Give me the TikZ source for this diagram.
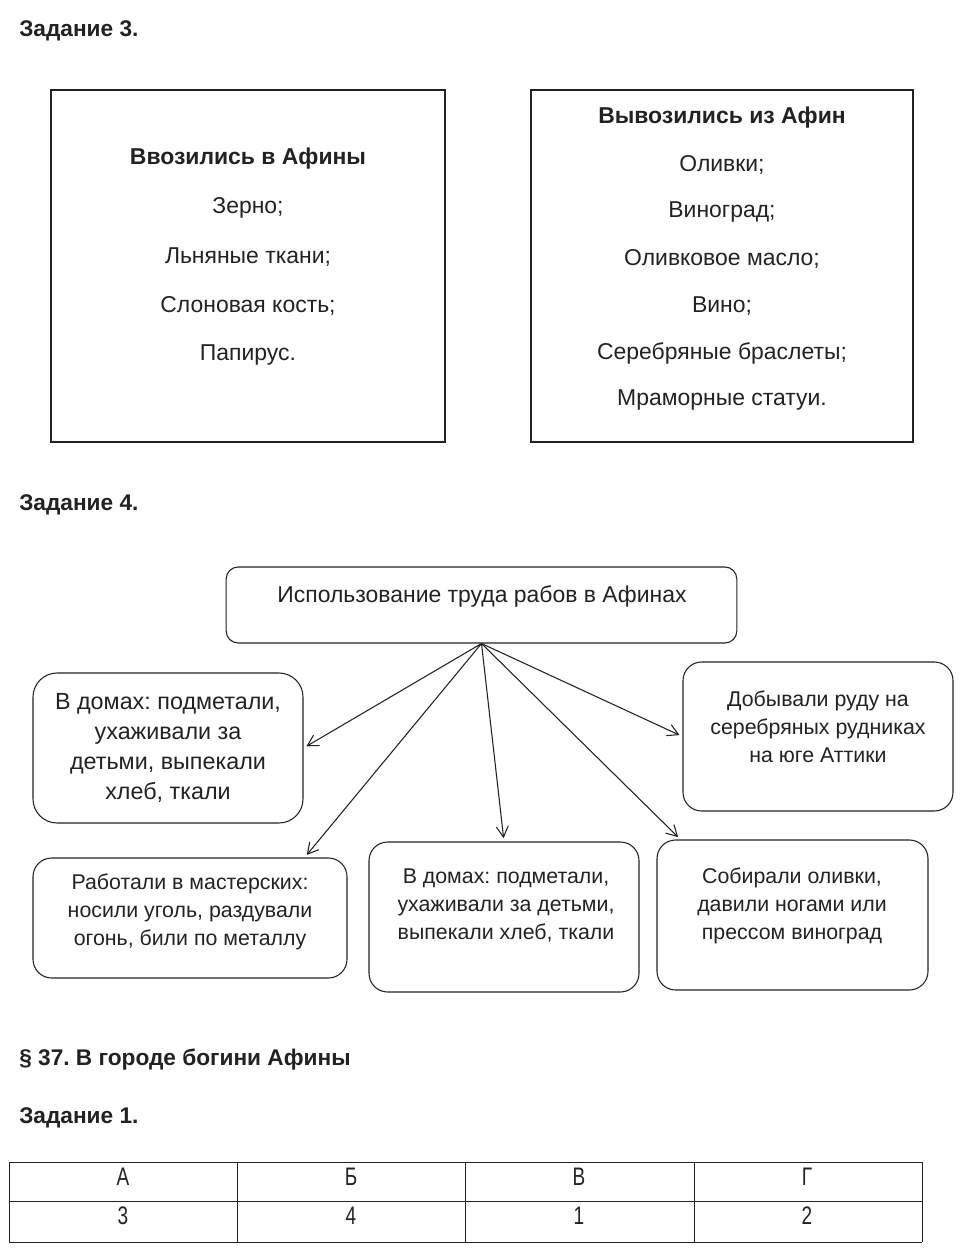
\documentclass[tikz,border=0pt]{standalone}
\usepackage{fontspec}
\setmainfont{Liberation Sans}
\newfontfamily\narrowfont[FakeStretch=0.75]{Liberation Sans}
\usetikzlibrary{arrows.meta}
\definecolor{ink}{HTML}{222222}
\frenchspacing

\begin{document}
\begin{tikzpicture}[x=0.75pt,y=-0.75pt,
  every node/.style={text=ink, inner sep=0pt, font=\fontsize{17.2}{21}\selectfont},
  heading/.style={anchor=west, font=\fontsize{17}{19}\selectfont\bfseries},
  boldline/.style={font=\fontsize{17.2}{21}\selectfont\bfseries},
  frame/.style={draw=ink, line width=1.2pt},
  slot/.style={draw=ink, line width=0.8pt, rounded corners=14pt},
  slottext/.style={align=center, font=\fontsize{16}{21}\selectfont},
  feed/.style={draw=ink, line width=0.8pt, -{Straight Barb[length=8pt,width=9pt]}, shorten >=2.5pt},
  grid/.style={draw=ink, line width=0.6pt},
  cell/.style={font=\fontsize{19}{20}\narrowfont}]
\useasboundingbox (0,0) rectangle (965,1251);

% Задание 3
\node[heading] (task3) at (19,31) {Задание 3.};
\draw[frame] (51,90) rectangle (445,442);
\draw[frame] (531,90) rectangle (913,442);
\node[boldline] (inTitle) at (248,159) {Ввозились в Афины};
\foreach \good [count=\i] in {Зерно;, Льняные ткани;, Слоновая кость;, Папирус.}
  \node (in\i) at (248,159+49*\i) {\good};
\node[boldline] (outTitle) at (722,118) {Вывозились из Афин};
\foreach \good [count=\i] in {Оливки;, Виноград;, Оливковое масло;, Вино;, Серебряные браслеты;, Мраморные статуи.}
  \node (out\i) at (722,118+47*\i) {\good};

% Задание 4
\node[heading] (task4) at (19,505) {Задание 4.};
\node[slot, rounded corners=9pt, minimum width=383pt, minimum height=57pt] (slaves) at (481.5,605) {};
\node (slavesText) at (482,596) {Использование труда рабов в Афинах};

\node[slot, rounded corners=18pt, minimum width=202.5pt, minimum height=112.5pt] (homes) at (168,748) {};
\node[slottext, font=\fontsize{17.5}{22.5}\selectfont] (homesText) at (168,748) {В домах: подметали,\\ухаживали за\\детьми, выпекали\\хлеб, ткали};

\node[slot, minimum width=235.5pt, minimum height=90pt] (workshop) at (190,918) {};
\node[slottext] (workshopText) at (190,912) {Работали в мастерских:\\носили уголь, раздували\\огонь, били по металлу};

\node[slot, minimum width=202.5pt, minimum height=112.5pt] (house2) at (504,917) {};
\node[slottext] (house2Text) at (506,906) {В домах: подметали,\\ухаживали за детьми,\\выпекали хлеб, ткали};

\node[slot, minimum width=203.25pt, minimum height=112.5pt] (olives) at (792.5,915) {};
\node[slottext] (olivesText) at (792,906) {Собирали оливки,\\давили ногами или\\прессом виноград};

\node[slot, minimum width=202.5pt, minimum height=111.75pt] (mines) at (818,736.5) {};
\node[slottext] (minesText) at (818,726.5) {Добывали руду на\\серебряных рудниках\\на юге Аттики};

\draw[feed] (slaves.south) -- (homes.east);
\draw[feed] (slaves.south) -- ([xshift=86pt]workshop.north);
\draw[feed] (slaves.south) -- (house2.north);
\draw[feed] (slaves.south) -- ([xshift=-84pt]olives.north);
\draw[feed] (slaves.south) -- (mines.west);

% § 37
\node[heading] (para37) at (19,1060) {§ 37. В городе богини Афины};
\node[heading] (task1) at (19,1118) {Задание 1.};
\foreach \y in {1162,1201,1242}
  \draw[grid] (9,\y) -- (922,\y);
\foreach \x in {9,237,465,694,922}
  \draw[grid] (\x,1162) -- (\x,1242);
\foreach \letter/\num [count=\i] in {А/3, Б/4, В/1, Г/2} {
  \node[cell] (col\i) at (228*\i-105,1177) {\letter};
  \node[cell] (ans\i) at (228*\i-105,1216) {\num};
}
\end{tikzpicture}
\end{document}
